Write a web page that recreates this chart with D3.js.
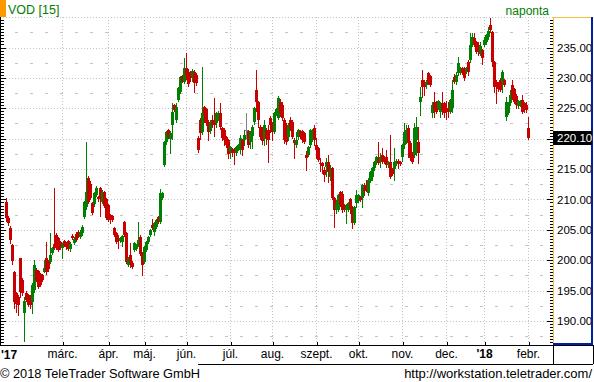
<!DOCTYPE html>
<html><head><meta charset="utf-8">
<script src="https://cdn.jsdelivr.net/npm/d3@7"></script>
<style>
body{margin:0;background:#fff}
svg{display:block}
text{font-family:"Liberation Sans",Arial,sans-serif}
</style>
</head><body>
<svg id="c" width="594" height="382"></svg>
<script>
const title = "VOD [15]";
const period = "naponta";
const monthIdx = [28, 51, 69, 90, 112, 133, 155, 176, 198, 220, 239, 261];
const monthLbl = ["márc.", "ápr.", "máj.", "jún.", "júl.", "aug.", "szept.", "okt.", "nov.", "dec.", "'18", "febr."];
const yearStart = "'17";
const yTicks = [190, 195, 200, 205, 210, 215, 220, 225, 230, 235];
const lastPrice = 220.10;
// [open, high, low, close] per trading day
const candles = [
[209.6,210.3,206.5,207.0],[207.0,207.2,205.8,206.2],[205.3,205.6,202.8,203.3],[202.5,202.6,199.3,199.8],
[198.1,198.3,192.2,193.2],[194.6,194.8,191.5,192.8],[194.0,194.3,191.0,192.7],[200.3,200.4,194.0,194.8],
[196.8,197.0,194.3,194.6],[191.3,194.0,186.7,193.3],[194.6,195.0,193.3,193.5],[194.3,194.5,192.4,192.6],
[194.0,194.2,192.2,192.6],[193.2,196.2,191.3,196.0],[195.1,200.0,194.8,199.2],[198.4,198.8,196.6,196.8],
[198.2,198.4,195.4,195.6],[197.7,197.9,195.8,196.0],[197.6,197.8,196.5,196.8],[198.1,200.0,198.0,198.7],
[200.3,203.0,197.8,198.1],[199.8,200.0,198.2,198.5],[199.7,204.5,199.5,200.8],[201.2,202.2,201.0,202.0],
[202.7,211.9,201.8,202.0],[204.2,204.5,201.8,202.5],[203.6,203.8,201.5,201.7],[203.0,203.2,201.8,202.0],
[202.0,202.9,200.4,202.7],[203.1,203.3,202.3,202.5],[202.8,203.0,201.9,202.2],[203.1,203.3,201.6,201.8],
[201.8,203.0,201.5,202.6],[204.0,204.3,203.5,203.7],[202.9,203.8,202.7,203.5],[204.3,204.6,203.1,203.3],
[204.6,204.9,203.8,204.0],[203.9,205.0,203.7,204.7],[204.4,205.8,204.2,205.5],[207.1,209.8,206.9,209.6],
[208.8,219.5,208.5,211.2],[213.5,213.8,209.4,209.6],[212.5,213.0,210.0,210.2],[209.4,209.6,207.6,207.8],
[209.3,211.2,209.0,211.0],[210.7,212.2,210.5,211.9],[210.4,210.6,209.8,210.0],[211.9,212.1,207.2,210.3],
[209.6,211.5,209.4,211.2],[211.2,211.4,208.8,209.0],[210.0,210.2,206.8,207.0],[209.1,209.3,206.4,206.6],
[207.4,207.6,206.2,206.6],[207.2,207.4,206.4,206.6],[205.3,205.5,204.0,204.2],[204.5,204.7,202.8,203.0],
[203.5,204.2,202.0,203.2],[203.2,203.8,203.0,203.6],[203.0,204.2,202.3,204.0],[206.3,206.5,204.0,204.2],
[204.5,204.7,199.5,199.7],[199.2,200.6,199.0,200.4],[200.8,202.8,198.9,199.5],[199.6,199.8,198.7,198.9],
[201.7,203.0,201.5,202.8],[201.9,202.7,201.7,202.5],[202.5,206.3,202.3,203.3],[203.8,204.2,200.8,201.0],
[201.2,201.4,197.6,199.2],[199.7,202.4,199.5,202.2],[201.7,203.2,201.5,203.0],[203.0,204.0,202.8,203.8],
[204.2,205.2,204.0,205.0],[205.8,206.8,205.1,205.3],[204.7,206.3,204.2,206.1],[205.5,206.8,205.3,206.6],
[207.1,207.3,206.1,206.3],[206.3,211.7,206.1,211.0],[210.3,211.3,210.1,211.0],[215.7,219.6,215.5,219.4],
[219.4,221.3,219.2,221.1],[221.4,221.6,220.1,220.3],[220.0,221.2,217.6,221.0],[222.3,225.9,220.0,224.4],
[225.5,225.7,224.5,224.7],[223.0,225.8,222.8,225.2],[226.4,228.5,226.2,228.3],[227.7,230.3,227.5,230.1],
[230.3,230.5,229.3,229.5],[229.3,233.3,229.1,231.6],[231.6,234.1,229.8,230.5],[231.0,231.5,228.6,229.0],
[230.8,231.2,229.5,229.9],[230.2,231.5,229.5,231.2],[231.0,231.3,227.7,229.2],[230.5,230.8,228.8,229.2],
[220.1,220.5,217.8,218.1],[223.1,223.4,219.9,220.9],[221.1,231.8,220.8,224.2],[225.2,225.4,222.8,223.9],
[224.9,225.1,222.2,222.5],[222.7,223.0,219.8,221.1],[221.3,223.0,221.0,222.7],[223.1,223.9,222.0,222.3],
[223.1,226.7,220.5,222.3],[222.5,224.4,221.9,224.2],[223.3,224.5,223.0,224.2],[224.2,225.8,221.6,221.9],
[221.8,222.0,219.8,220.1],[221.5,221.7,219.0,219.8],[220.3,220.5,218.6,219.0],[219.8,220.0,216.8,217.5],
[217.8,218.8,216.9,218.6],[218.3,218.5,217.2,217.7],[218.3,218.5,215.8,217.6],[217.6,218.8,217.3,218.6],
[218.4,219.2,218.2,219.0],[218.1,220.6,217.6,220.1],[219.8,220.0,217.3,218.1],[219.8,221.5,219.0,220.6],
[221.5,224.2,220.1,221.5],[221.2,221.4,218.6,219.0],[219.5,221.3,218.4,221.1],[220.5,222.2,218.4,222.0],
[222.7,225.2,222.4,225.0],[228.0,231.3,224.5,226.1],[226.0,226.2,222.0,223.0],[222.0,222.2,220.0,220.3],
[221.8,222.0,219.2,219.6],[220.0,223.1,219.0,222.3],[221.5,221.7,219.2,220.1],[221.5,222.3,216.2,219.8],
[223.4,223.7,221.1,222.3],[222.3,222.8,219.8,221.1],[221.1,224.4,220.9,224.2],[224.2,225.1,223.9,224.9],
[223.4,227.0,223.2,226.7],[226.0,226.5,223.8,224.2],[225.5,226.0,223.0,223.4],[223.1,223.4,219.3,219.8],
[222.3,222.5,219.2,219.5],[220.3,222.6,219.8,222.3],[223.1,223.5,221.5,221.8],[222.8,223.0,220.1,220.3],
[219.8,220.1,216.8,219.3],[218.9,221.1,218.6,219.8],[220.3,221.6,220.0,221.4],[221.2,221.4,220.1,220.3],
[221.2,221.4,219.5,219.8],[220.9,221.1,219.3,219.5],[217.3,218.0,214.9,216.8],[217.3,218.8,217.1,218.6],
[219.0,221.6,218.7,221.4],[219.8,221.6,219.6,221.4],[221.8,222.3,218.9,219.8],[219.0,220.1,216.8,218.2],
[218.5,218.7,216.3,216.5],[216.0,216.9,214.6,215.8],[216.0,216.2,214.3,215.5],[214.9,215.4,213.0,214.0],
[215.3,216.8,213.8,216.2],[216.2,217.3,212.8,214.5],[213.7,215.6,213.2,214.8],[215.2,215.4,210.0,210.2],
[210.2,210.4,205.5,208.3],[208.5,209.9,207.8,209.2],[208.3,210.9,208.1,210.7],[211.2,211.4,208.9,209.1],
[210.9,211.4,208.0,208.3],[209.1,209.3,208.1,208.3],[208.3,209.3,206.1,209.1],[208.3,209.6,208.1,209.4],
[210.0,210.2,207.8,208.6],[208.8,209.0,205.3,206.1],[206.1,209.0,205.9,208.8],[209.4,211.5,208.8,210.7],
[209.7,210.9,209.5,210.7],[210.4,210.6,209.7,209.9],[210.2,212.6,208.8,212.4],[211.9,212.7,210.8,211.4],
[212.4,213.2,211.4,211.9],[211.0,213.5,210.7,213.2],[213.0,214.7,212.8,214.5],[213.7,215.4,213.2,215.2],
[215.2,216.4,214.9,216.2],[216.0,217.2,215.8,217.0],[216.7,219.5,215.8,216.0],[216.2,217.6,215.3,217.0],
[217.3,218.4,216.0,216.2],[217.0,217.2,216.0,216.2],[217.0,218.1,215.4,215.6],[215.6,216.4,215.4,216.2],
[216.2,220.6,213.5,213.7],[215.0,215.2,214.0,214.2],[215.0,218.4,213.2,216.2],[215.8,216.6,215.6,216.4],
[216.4,216.6,215.2,215.8],[216.2,216.4,215.6,215.8],[217.0,219.2,216.4,219.0],[219.0,222.5,218.5,221.1],
[219.6,222.2,219.3,221.4],[221.8,222.2,217.0,219.3],[219.3,219.6,216.5,216.8],[217.6,217.8,216.0,216.2],
[217.3,222.5,217.0,221.8],[219.8,223.5,217.3,222.0],[219.5,222.0,216.0,217.6],[226.0,228.5,223.9,226.9],
[229.7,231.3,226.9,228.5],[229.4,229.6,227.2,228.5],[228.8,229.7,228.3,229.4],[230.8,231.0,229.0,229.2],
[230.3,230.5,228.6,228.9],[224.2,226.0,223.6,225.5],[226.0,227.6,223.6,224.7],[226.0,226.2,224.2,224.4],
[225.0,226.4,224.8,226.2],[224.4,226.0,223.6,225.8],[225.8,227.6,224.0,224.7],[225.8,226.0,223.6,224.2],
[225.0,226.2,223.2,224.7],[225.0,226.1,223.6,224.4],[224.4,226.6,224.2,226.4],[225.0,229.7,224.4,228.0],
[230.1,230.6,229.1,229.3],[229.3,231.0,229.0,230.4],[230.8,233.4,230.5,232.5],[230.8,231.8,230.6,231.6],
[231.6,231.8,230.6,230.8],[231.6,231.8,229.7,230.0],[231.0,231.8,230.8,231.6],[232.6,232.9,230.5,231.0],
[232.9,237.4,232.6,235.4],[235.4,237.4,235.2,236.8],[236.5,237.4,235.2,235.4],[235.9,236.1,234.1,234.3],
[235.4,235.9,233.8,234.3],[234.0,235.9,233.8,235.2],[234.6,234.8,232.3,233.3],[235.4,236.8,235.2,236.2],
[235.9,237.3,235.6,237.0],[236.8,238.3,236.4,237.7],[238.7,239.9,237.5,237.9],[237.5,237.7,232.0,232.6],
[232.6,232.8,227.6,228.5],[229.3,229.6,225.9,228.5],[229.1,229.3,227.9,228.2],[229.7,229.9,227.8,228.0],
[229.3,231.3,227.7,231.0],[229.6,229.8,228.7,228.9],[223.6,226.8,223.0,226.0],[224.2,226.0,224.0,225.8],
[225.9,228.0,225.6,227.2],[228.8,229.6,226.5,226.7],[228.2,228.4,225.8,226.0],[227.1,227.3,225.0,225.5],
[225.3,226.4,225.1,226.2],[225.5,226.4,225.3,226.2],[226.4,227.2,224.2,224.4],[225.8,226.1,224.4,224.7],
[225.5,226.1,224.4,224.7],[221.8,223.6,220.0,220.1]
];

const W = 594, H = 382;
const plotL = 0, plotR = 553, plotT = 17, plotB = 344;
const svg = d3.select("#c");
const x = d3.scaleLinear().domain([0, 261]).range([6, 528]);
const y = d3.scaleLinear().domain([190, 235]).range([321, 47.5]);
const GREEN = "#008000", RED = "#c80000", GREY = "#808080";
const gridCol = "#c4c4c4";

svg.append("rect").attr("width", W).attr("height", H).attr("fill", "#fff");

// clip
svg.append("clipPath").attr("id", "pc").append("rect")
  .attr("x", plotL).attr("y", plotT).attr("width", plotR - plotL).attr("height", plotB - plotT);
const g = svg.append("g").attr("clip-path", "url(#pc)").attr("shape-rendering", "crispEdges");

// horizontal grid
const levels = d3.range(185, 242.5, 2.5);
levels.forEach(v => {
  const yy = Math.round(y(v)) + 0.5;
  const major = Math.abs(v % 5) < 1e-6;
  g.append("line").attr("x1", plotL).attr("x2", plotR).attr("y1", yy).attr("y2", yy)
    .attr("stroke", gridCol).attr("stroke-width", 1)
    .attr("stroke-dasharray", major ? "1,2" : "3,12")
    .attr("stroke-dashoffset", major ? 0 : -15);
});
// vertical grid
monthIdx.forEach(i => {
  const xx = Math.round(x(i)) + 0.5;
  g.append("line").attr("x1", xx).attr("x2", xx).attr("y1", plotT).attr("y2", plotB)
    .attr("stroke", gridCol).attr("stroke-dasharray", "1,2");
});

// candles
const colorOf = d => d[3] > d[0] ? GREEN : (d[3] < d[0] ? RED : GREY);
const cg = g.append("g");
cg.selectAll("line.w").data(candles).join("line").attr("class", "w")
  .attr("x1", (d, i) => Math.round(x(i)) + 0.5).attr("x2", (d, i) => Math.round(x(i)) + 0.5)
  .attr("y1", d => Math.round(y(d[1]))).attr("y2", d => Math.round(y(d[2])) + 1)
  .attr("stroke", colorOf).attr("stroke-width", 1);
cg.selectAll("rect.b").data(candles).join("rect").attr("class", "b")
  .attr("x", (d, i) => Math.round(x(i)) - 1)
  .attr("width", 3)
  .attr("y", d => Math.round(y(Math.max(d[0], d[3]))))
  .attr("height", d => Math.max(1, Math.round(y(Math.min(d[0], d[3]))) - Math.round(y(Math.max(d[0], d[3])))))
  .attr("fill", colorOf);

// left axis line + ticks
const minorVals = d3.range(185, 240.01, 0.5);
const leftAxis = d3.axisRight(y).tickValues(minorVals).tickSize(3).tickFormat("");
const la = svg.append("g").attr("transform", "translate(0.5,0)").attr("shape-rendering", "crispEdges").call(leftAxis);
la.select(".domain").remove();
const leftMaj = d3.axisRight(y).tickValues(yTicks).tickSize(5).tickFormat("");
const lm = svg.append("g").attr("transform", "translate(0.5,0)").attr("shape-rendering", "crispEdges").call(leftMaj);
lm.select(".domain").remove();
[la, lm].forEach(a => a.selectAll(".tick").filter(d => y(d) < plotT + 1 || y(d) > plotB - 1).remove());
svg.append("line").attr("x1", 0.5).attr("x2", 0.5).attr("y1", plotT).attr("y2", plotB + 1).attr("stroke", "#000");

// right axis
const ra = svg.append("g").attr("transform", `translate(${plotR},0)`).attr("shape-rendering", "crispEdges")
  .call(d3.axisLeft(y).tickValues(minorVals).tickSize(3).tickFormat(""));
ra.select(".domain").remove();
const rm = svg.append("g").attr("transform", `translate(${plotR},0)`).attr("shape-rendering", "crispEdges")
  .call(d3.axisLeft(y).tickValues(yTicks).tickSize(6).tickFormat(""));
rm.select(".domain").remove();
[ra, rm].forEach(a => a.selectAll(".tick").filter(d => y(d) < plotT + 1 || y(d) > plotB - 1).remove());

const rl = svg.append("g").attr("transform", `translate(${plotR + 4},0)`)
  .call(d3.axisRight(y).tickValues(yTicks).tickSize(0).tickPadding(0).tickFormat(d3.format(".2f")));
rl.select(".domain").remove();
rl.selectAll("text").attr("font-size", 11.5).attr("font-family", "Liberation Sans, Arial, sans-serif").attr("fill", "#000");

// right panel frame
svg.append("line").attr("x1", plotR + 0.5).attr("x2", plotR + 0.5).attr("y1", plotT).attr("y2", plotB).attr("stroke", "#f0c040");
svg.append("line").attr("x1", plotR).attr("x2", 592).attr("y1", plotT + 0.5).attr("y2", plotT + 0.5).attr("stroke", "#f0c040");
svg.append("rect").attr("x", 591).attr("y", plotT).attr("width", 2).attr("height", plotB - plotT + 1).attr("fill", "#0020a0");
svg.append("rect").attr("x", plotR).attr("y", plotB - 1).attr("width", 593 - plotR).attr("height", 2).attr("fill", "#0020a0");

// last price box
const ly = Math.round(y(lastPrice));
svg.append("rect").attr("x", plotR).attr("y", ly - 7).attr("width", 39).attr("height", 14).attr("fill", "#000");
svg.append("text").attr("x", plotR + 4).attr("y", ly + 4).attr("font-size", 11.5).attr("fill", "#fff")
  .text(d3.format(".2f")(lastPrice));

// x-axis band
const bandT = 345, bandB = 364;
svg.append("line").attr("x1", 0).attr("x2", 593).attr("y1", bandT + 0.5).attr("y2", bandT + 0.5).attr("stroke", "#000");
svg.append("line").attr("x1", 0).attr("x2", 593).attr("y1", bandB + 0.5).attr("y2", bandB + 0.5).attr("stroke", "#000");
svg.append("line").attr("x1", plotR + 0.5).attr("x2", plotR + 0.5).attr("y1", bandT).attr("y2", bandB).attr("stroke", "#000");
svg.append("line").attr("x1", 593.5).attr("x2", 593.5).attr("y1", bandT).attr("y2", bandB).attr("stroke", "#000");

const xt = svg.append("g").attr("transform", `translate(0.5,${bandT})`).attr("shape-rendering", "crispEdges")
  .call(d3.axisTop(x).tickValues(monthIdx).tickSize(3).tickFormat(""));
xt.select(".domain").remove();

const xl = svg.append("g").attr("transform", `translate(0,${bandT + 2})`)
  .call(d3.axisBottom(x).tickValues(monthIdx).tickSize(0).tickPadding(0).tickFormat((d, i) => monthLbl[i]));
xl.select(".domain").remove();
xl.selectAll("text").attr("font-size", 12).attr("font-family", "Liberation Sans, Arial, sans-serif")
  .attr("fill", "#000").attr("dy", "0.9em")
  .attr("font-weight", (d, i) => monthLbl[i].startsWith("'") ? "bold" : "normal");
svg.append("text").attr("x", 1).attr("y", bandT + 14).attr("font-size", 12).attr("font-weight", "bold").text(yearStart);

// header
svg.append("rect").attr("x", 0).attr("y", 0).attr("width", 6).attr("height", 17).attr("fill", "#ff9900");
svg.append("text").attr("x", 8).attr("y", 14).attr("font-size", 12.5).attr("fill", GREEN).text(title);
svg.append("text").attr("x", 549).attr("y", 15).attr("font-size", 12).attr("fill", GREEN).attr("text-anchor", "end").text(period);

// footer
svg.append("rect").attr("x", 0).attr("y", bandB).attr("width", 198).attr("height", 18).attr("fill", "#fff");
svg.append("text").attr("x", 0).attr("y", 378).attr("font-size", 12.8).attr("fill", "#000").text("© 2018 TeleTrader Software GmbH");
svg.append("text").attr("x", 592).attr("y", 378).attr("font-size", 13).attr("fill", "#000").attr("text-anchor", "end").text("http://workstation.teletrader.com/");
</script>
</body></html>
